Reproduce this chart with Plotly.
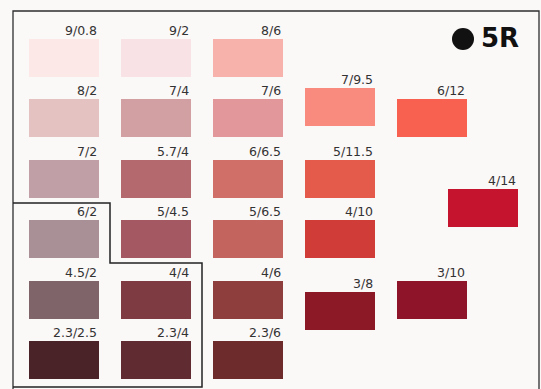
import plotly.graph_objects as go

# Munsell 5R chips: notation, colour, column slot, row slot
labels = ["9/0.8", "9/2", "8/6",
          "8/2", "7/4", "7/6", "7/9.5", "6/12",
          "7/2", "5.7/4", "6/6.5", "5/11.5", "4/14",
          "6/2", "5/4.5", "5/6.5", "4/10",
          "4.5/2", "4/4", "4/6", "3/8", "3/10",
          "2.3/2.5", "2.3/4", "2.3/6"]
colors = ["#fbe8e7", "#f8e2e6", "#f6b2ab",
          "#e5c2c2", "#d29fa2", "#e2979a", "#f88a7e", "#f8604f",
          "#c0a0a6", "#b4696e", "#d06e68", "#e45a4b", "#c4142e",
          "#a98f96", "#a45962", "#c3645e", "#d03c37",
          "#7f6469", "#7e3b42", "#8e3e3d", "#8b1a26", "#8d1429",
          "#4a2328", "#602b31", "#6d2b2c"]
col = [1, 2, 3,
       1, 2, 3, 4, 5,
       1, 2, 3, 4, 5.554,
       1, 2, 3, 4,
       1, 2, 3, 4, 5,
       1, 2, 3]
row = [1, 1, 1,
       2, 2, 2, 1.81, 2,
       3, 3, 3, 3, 3.48,
       4, 4, 4, 4,
       5, 5, 5, 5.19, 5,
       6, 6, 6]
title = "5R"

W, H = 541, 389
CHIP_W = 70 / 92
CHIP_H = 38 / 60.4
BG = "#fbf8f8"
LINE = "#2e2e2e"

def px(x):
    return x / W

def py(y):
    return 1 - y / H

fig = go.Figure()
fig.add_trace(go.Bar(
    x=col, y=[CHIP_H] * len(col), base=row, width=CHIP_W,
    marker=dict(color=colors, line=dict(width=0)),
    hoverinfo="skip", showlegend=False,
))

annotations = []
for lab, c, r in zip(labels, col, row):
    annotations.append(dict(
        x=c + CHIP_W / 2, y=r, xref="x", yref="y", text=lab,
        showarrow=False, xanchor="right", yanchor="bottom", yshift=-1,
        font=dict(family="DejaVu Sans, Verdana, sans-serif", size=12.5, color="#333333"),
    ))
annotations.append(dict(
    x=px(521), y=py(38), xref="paper", yref="paper", text="<b>" + title + "</b>",
    showarrow=False, xanchor="right", yanchor="middle",
    font=dict(family="DejaVu Sans, Verdana, sans-serif", size=26, color="#111111"),
))

shapes = [
    # outer frame (left, top, right)
    dict(type="path", xref="paper", yref="paper",
         path=f"M {px(13)} {py(392)} L {px(13)} {py(11)} L {px(539)} {py(11)} L {px(539)} {py(392)}",
         line=dict(color=LINE, width=1.3)),
    # bracket around the greyish group
    dict(type="path", xref="paper", yref="paper",
         path=(f"M {px(13)} {py(203)} L {px(110)} {py(203)} L {px(110)} {py(263)} "
               f"L {px(202)} {py(263)} L {px(202)} {py(387)} L {px(13)} {py(387)}"),
         line=dict(color="#222222", width=1.5)),
    # black dot before the hue name
    dict(type="circle", xref="paper", yref="paper",
         x0=px(452), x1=px(474), y0=py(50), y1=py(28),
         fillcolor="#111111", line=dict(width=0)),
]

fig.update_layout(
    width=W, height=H, margin=dict(l=0, r=0, t=0, b=0),
    paper_bgcolor=BG, plot_bgcolor=BG,
    xaxis=dict(range=[1 - 64 / 92, 1 + 477 / 92], visible=False, fixedrange=True),
    yaxis=dict(range=[1 + 350 / 60.4, 1 - 39 / 60.4], visible=False, fixedrange=True),
    annotations=annotations, shapes=shapes, bargap=0,
)

fig.write_html("out.html", config={"displayModeBar": False},
               post_script="document.body.style.margin='0';document.body.style.overflow='hidden';document.body.style.background='#fbf8f8';")
